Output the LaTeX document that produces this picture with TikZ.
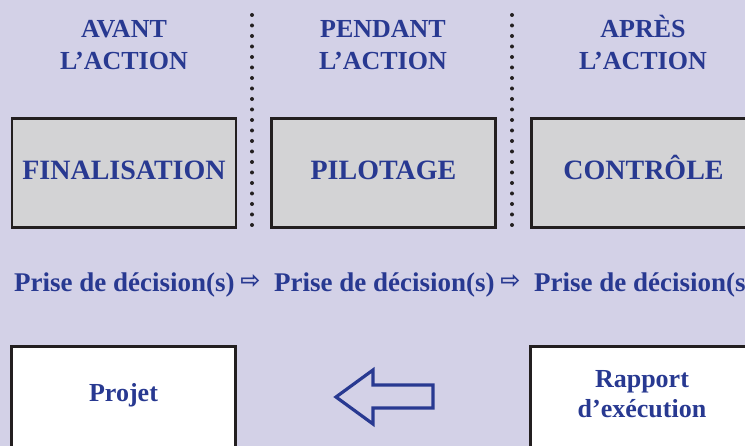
\documentclass[tikz,border=0pt]{standalone}
\usepackage{fontspec}
\setmainfont{Liberation Serif}
\newfontfamily\arrowfont{DejaVu Sans}

\definecolor{inkblue}{RGB}{40,57,145}
\definecolor{lavender}{RGB}{211,209,231}
\definecolor{boxgrey}{RGB}{211,211,213}
\definecolor{edge}{RGB}{35,31,32}

\tikzset{
  phasebox/.style={draw=edge, line width=2.6pt, fill=boxgrey, inner sep=0pt,
    minimum width=224pt, minimum height=109pt, text=inkblue,
    font=\bfseries\fontsize{28}{32}\selectfont, text height=18pt, text depth=4pt},
  lowbox/.style={draw=edge, line width=2.6pt, fill=white, inner sep=0pt,
    minimum width=224pt, minimum height=130pt},
  head/.style={text=inkblue, align=center, inner sep=0pt,
    font=\bfseries\fontsize{26}{32}\selectfont},
  lbl/.style={text=inkblue, align=center, inner sep=0pt,
    font=\bfseries\fontsize{26}{30}\selectfont},
  dec/.style={text=inkblue, inner sep=0pt, font=\bfseries\fontsize{27}{30}\selectfont},
  decarrow/.style={text=inkblue, inner sep=0pt, font=\arrowfont\bfseries\fontsize{24}{26}\selectfont},
  sep/.style={draw=edge, line width=4pt, line cap=round, dash pattern=on 0pt off 10.5pt},
}

\begin{document}
\begin{tikzpicture}[x=1pt,y=-1pt]
  \useasboundingbox (0,0) rectangle (745,446);
  \fill[lavender] (0,0) rectangle (745,446);
  \clip (0,0) rectangle (745,446);

  % phases
  \node[head] (avant) at (124,42.5) {\vphantom{È}AVANT\\L’ACTION};
  \node[head] (pendant) at (383,42.5) {\vphantom{È}PENDANT\\L’ACTION};
  \node[head] (apres) at (643,42.5) {\vphantom{È}APRÈS\\L’ACTION};

  \draw[sep] (252,15) -- (252,225);
  \draw[sep] (512,15) -- (512,225);

  \node[phasebox] (finalisation) at (124,173) {FINALISATION};
  \node[phasebox] (pilotage) at (383.5,173) {PILOTAGE};
  \node[phasebox] (controle) at (643.5,173) {CONTRÔLE};

  % decisions
  \node[dec, anchor=base west] (dec1) at (14,292) {Prise de décision(s)};
  \node[dec, anchor=base west] (dec2) at (274,292) {Prise de décision(s)};
  \node[dec, anchor=base west] (dec3) at (534,292) {Prise de décision(s)};
  \node[decarrow] (fl1) at (250.5,281.5) {⇨};
  \node[decarrow] (fl2) at (510.5,281.5) {⇨};

  % documents
  \node[lowbox, anchor=north] (projetbox) at (123.5,345.3) {};
  \node[lowbox, anchor=north] (rapportbox) at (642.5,345.3) {};
  \node[lbl, anchor=base] (projet) at (123.5,402) {Projet};
  \node[lbl] (rapport) at (642,394) {Rapport\\d’exécution};

  \draw[inkblue, line width=3.2pt, line join=miter]
    (336,397) -- (373,370) -- (373,385) -- (433,385) -- (433,408)
    -- (373,408) -- (373,424) -- cycle;
\end{tikzpicture}
\end{document}
